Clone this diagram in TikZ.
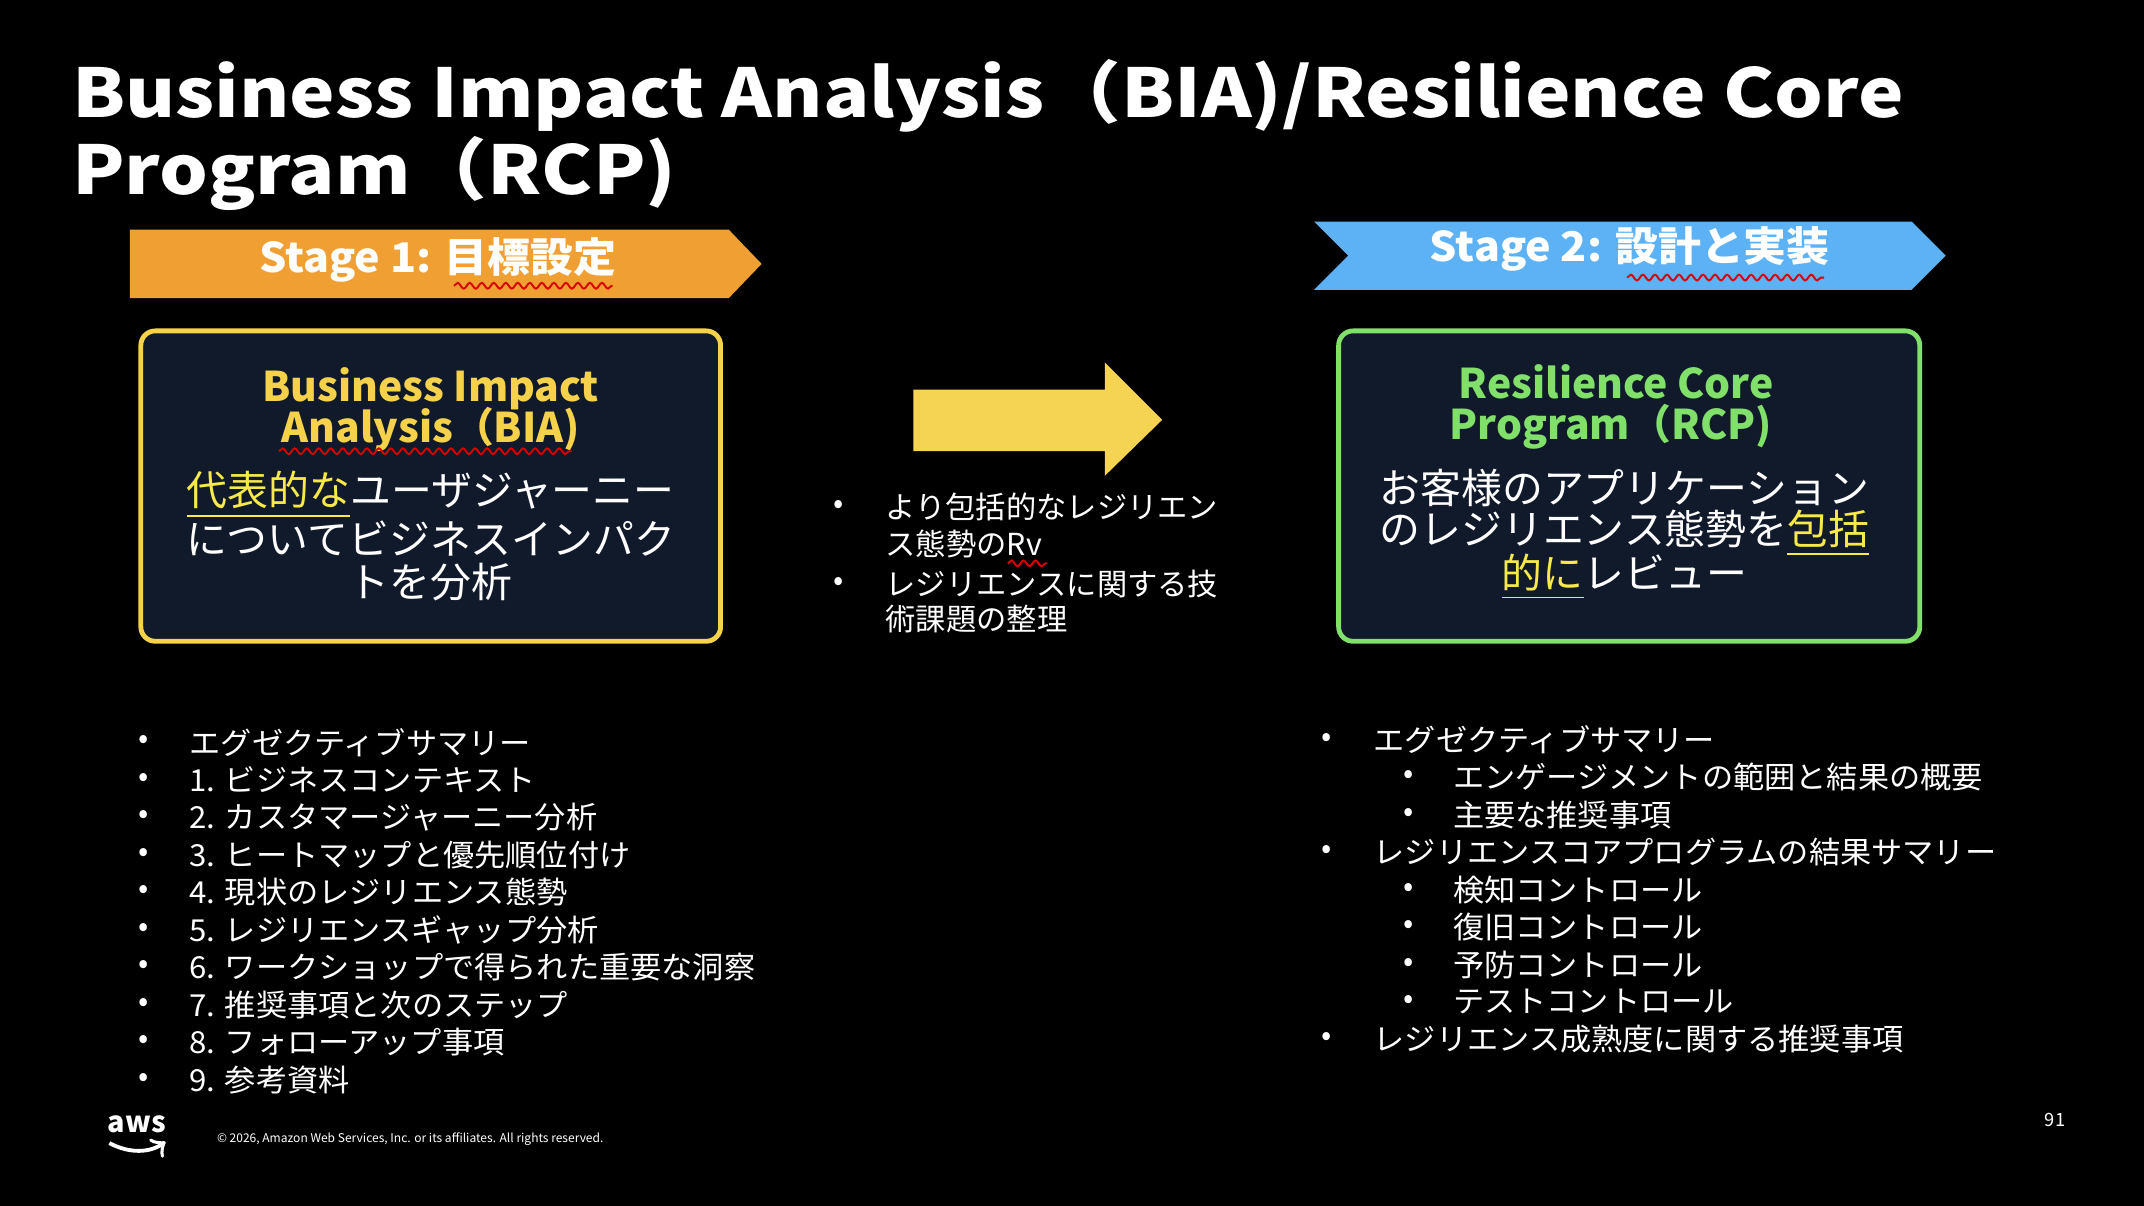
\documentclass[tikz,border=0pt]{standalone}
\usepackage{fontspec}
\setmainfont{Noto Sans CJK JP}
\usetikzlibrary{decorations.pathmorphing}
\definecolor{bg}{HTML}{000000}
\definecolor{org}{HTML}{F0A033}
\definecolor{blu}{HTML}{5CB2F5}
\definecolor{ylw}{HTML}{F5D24A}
\definecolor{grn}{HTML}{80E06A}
\definecolor{box}{HTML}{111A2A}
\definecolor{tyl}{HTML}{F7E94A}
\newcommand{\fs}[1]{\fontsize{#1pt}{#1pt}\selectfont}
\begin{document}
\begin{tikzpicture}[x=0.01cm,y=-0.01cm,
  txt/.style={text=white,inner sep=0,anchor=west},
  bul/.style={text=white,inner sep=0,font=\fs{6.3}},
  card/.style={fill=box,rounded corners=3pt,line width=1pt},
  squig/.style={red!85!black,line width=0.4pt,decorate,decoration={snake,amplitude=0.6pt,segment length=2.5pt}}]
\useasboundingbox[fill=bg] (0,0) rectangle (1568,882);
% title
\node[txt,font=\fs{14}\bfseries] (t1) at (52,70) {\scalebox{1.14}[1]{Business Impact Analysis（BIA)/Resilience Core}};
\node[txt,font=\fs{14}\bfseries] (t2) at (52,127) {\scalebox{1.14}[1]{Program（RCP)}};
% stage banners
\fill[org] (95,168) -- (533,168) -- (557,193) -- (533,218) -- (95,218) -- cycle;
\node[text=white,font=\fs{8.5}\bfseries,inner sep=0] (s1) at (320,190) {\scalebox{1.05}[1]{Stage 1: 目標設定}};
\draw[squig] (332,209) -- (448,209);
\fill[blu] (961,162) -- (1398,162) -- (1423,187) -- (1398,212) -- (961,212) -- (986,187) -- cycle;
\node[text=white,font=\fs{8.5}\bfseries,inner sep=0] (s2) at (1192,182) {\scalebox{1.05}[1]{Stage 2: 設計と実装}};
\draw[squig] (1190,203) -- (1334,203);
% cards
\draw[card,draw=ylw] (103,242) rectangle (527,469);
\node[text=ylw,font=\fs{8.5}\bfseries,inner sep=0] (b1) at (315,284) {Business Impact};
\node[text=ylw,font=\fs{8.5}\bfseries,inner sep=0] (b2) at (315,314) {Analysis（BIA)};
\draw[squig] (204,330) -- (418,330);
\node[text=white,font=\fs{8.5},inner sep=0] (b3) at (315,362) {\textcolor{tyl}{\underline{代表的な}}ユーザジャーニー};
\node[text=white,font=\fs{8.5},inner sep=0] (b4) at (315,394) {についてビジネスインパク};
\node[text=white,font=\fs{8.5},inner sep=0] (b5) at (315,426) {トを分析};
\draw[card,draw=grn] (979,242) rectangle (1404,469);
\node[text=grn,font=\fs{8.5}\bfseries,inner sep=0] (r1) at (1182,279) {Resilience Core};
\node[text=grn,font=\fs{8.5}\bfseries,inner sep=0] (r2) at (1178,312) {Program（RCP)};
\node[text=white,font=\fs{8.5},inner sep=0] (r3) at (1188,357) {お客様のアプリケーション};
\node[text=white,font=\fs{8.5},inner sep=0] (r4) at (1188,390) {のレジリエンス態勢を\textcolor{tyl}{\underline{包括}}};
\node[text=white,font=\fs{8.5},inner sep=0] (r5) at (1188,422) {\textcolor{tyl}{\underline{的に}}レビュー};
% arrow
\fill[ylw!95!white] (668,285) -- (808,285) -- (808,265) -- (850,307) -- (808,348) -- (808,330) -- (668,330) -- cycle;
% middle bullets
\foreach \y/\t [count=\i] in {371/{より包括的なレジリエン},398/{ス態勢のRv},427/{レジリエンスに関する技},453/{術課題の整理}}
  \node[bul,anchor=west] (m\i) at (647,\y) {\t};
\node[bul] (mb1) at (613,371) {•};
\node[bul] (mb2) at (613,427) {•};
\draw[squig] (737,412) -- (766,412);
% left list
\foreach \t [count=\i] in {エグゼクティブサマリー,1. ビジネスコンテキスト,2. カスタマージャーニー分析,3. ヒートマップと優先順位付け,4. 現状のレジリエンス態勢,5. レジリエンスギャップ分析,6. ワークショップで得られた重要な洞察,7. 推奨事項と次のステップ,8. フォローアップ事項,9. 参考資料}{
  \node[bul,anchor=west] (l\i) at (138,{543+27.4*(\i-1)}) {\scalebox{1.03}[1]{\t}};
  \node[bul] (lb\i) at (105,{543+27.4*(\i-1)}) {•};}
% right list
\foreach \x/\bx/\t [count=\i] in {1004/970/エグゼクティブサマリー,1062/1030/エンゲージメントの範囲と結果の概要,1062/1030/主要な推奨事項,1004/970/レジリエンスコアプログラムの結果サマリー,1062/1030/検知コントロール,1062/1030/復旧コントロール,1062/1030/予防コントロール,1062/1030/テストコントロール,1004/970/レジリエンス成熟度に関する推奨事項}{
  \node[bul,anchor=west] (q\i) at (\x,{541+27.4*(\i-1)}) {\scalebox{1.03}[1]{\t}};
  \node[bul] (qb\i) at (\bx,{541+27.4*(\i-1)}) {•};}
% footer
\node[text=white,font=\fs{6}\bfseries,inner sep=0] (aws) at (100,822) {aws};
\coordinate (sa) at (80,836);
\coordinate (sb) at (121,835);
\draw[white,line width=0.8pt,->] (sa) .. controls (95,844) and (110,843) .. (sb);
\node[txt,font=\fs{2.5}] (cr) at (158,833) {© 2026, Amazon Web Services, Inc. or its affiliates. All rights reserved.};
\node[text=white,font=\fs{3.8},inner sep=0] (pg) at (1503,819) {91};
\end{tikzpicture}
\end{document}
